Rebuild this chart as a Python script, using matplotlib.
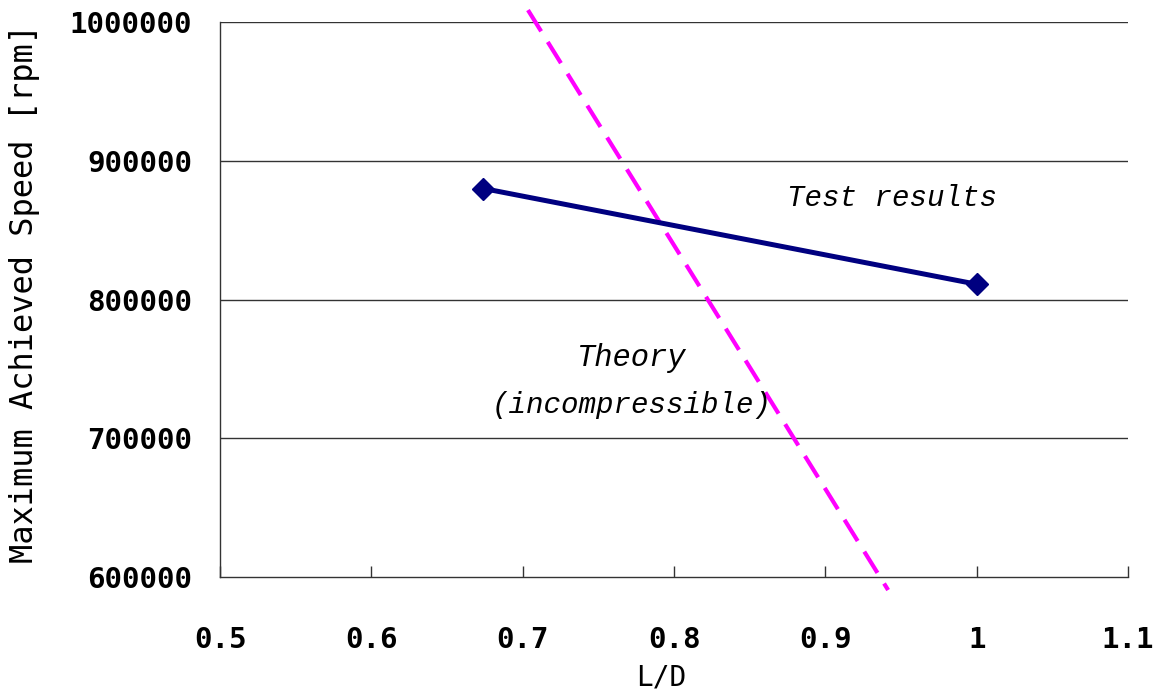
import matplotlib
matplotlib.use("Agg")
import matplotlib.pyplot as plt

# Data
test_ld = [0.674, 1.0]
test_speed = [880000, 811000]
theory_ld = [0.7035, 0.9415]
theory_speed = [1008600, 590600]

x_ticks = [0.5, 0.6, 0.7, 0.8, 0.9, 1.0, 1.1]
x_tick_labels = ["0.5", "0.6", "0.7", "0.8", "0.9", "1", "1.1"]
y_ticks = [600000, 700000, 800000, 900000, 1000000]
y_tick_labels = ["600000", "700000", "800000", "900000", "1000000"]

fig = plt.figure(figsize=(11.61, 6.98), dpi=100)
ax = fig.add_axes([220/1161, 1-577/698, (1128-220)/1161, (577-22)/698])

ax.set_xlim(0.5, 1.1)
ax.set_ylim(600000, 1000000)

for y in y_ticks[1:]:
    ax.axhline(y, color="#333333", lw=1.0, zorder=1)

ax.plot(test_ld, test_speed, color="#000080", lw=3.6, marker="D", markersize=11,
        zorder=3, solid_capstyle="butt")
ax.plot(theory_ld, theory_speed, color="#FF00FF", lw=3.0, dashes=(6, 3),
        clip_on=False, zorder=2)

ax.spines["top"].set_visible(False)
ax.spines["right"].set_visible(False)
for s in ("left", "bottom"):
    ax.spines[s].set_color("#333333")
    ax.spines[s].set_linewidth(1.0)

ax.set_xticks(x_ticks)
ax.set_xticklabels(x_tick_labels, fontfamily="DejaVu Sans Mono", fontsize=21,
                   fontweight="bold")
ax.set_yticks(y_ticks)
ax.set_yticklabels(y_tick_labels, fontfamily="DejaVu Sans Mono", fontsize=21,
                   fontweight="bold")
ax.tick_params(axis="x", direction="in", length=8, width=1, color="#333333", pad=35)
ax.tick_params(axis="y", direction="in", length=0, width=1, pad=20)

ax.set_xlabel("L/D", fontfamily="DejaVu Sans Mono", fontsize=20)
ax.xaxis.set_label_coords(0.486, -0.155)
ax.set_ylabel("Maximum Achieved Speed [rpm]", fontfamily="DejaVu Sans Mono",
              fontsize=23)
ax.yaxis.set_label_coords(-0.198, 0.51)

ax.text(0.8747, 873150, "Test results", fontfamily="Liberation Mono", style="italic",
        fontsize=21, ha="left", va="center")
ax.text(0.772, 757800, "Theory", fontfamily="Liberation Mono", style="italic",
        fontsize=22, ha="center", va="center")
ax.text(0.772, 724000, "(incompressible)", fontfamily="Liberation Mono", style="italic",
        fontsize=21, ha="center", va="center")

fig.savefig("out.png", dpi=100)
